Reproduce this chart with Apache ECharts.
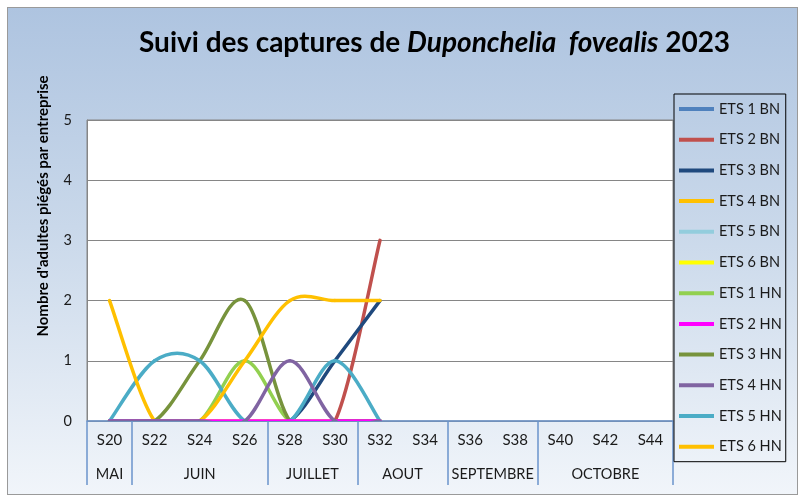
<!DOCTYPE html>
<html>
<head>
<meta charset="utf-8">
<script src="https://cdn.jsdelivr.net/npm/echarts@6/dist/echarts.min.js"></script>
<style>
html,body{margin:0;padding:0;background:#fff;}
#bg{position:absolute;left:7px;top:7px;width:789px;height:486px;border:1px solid #9a9a9a;
background:linear-gradient(to bottom,#aec4e0 0%,#c9d8ea 45%,#f1f5fa 100%);}
#chart{position:absolute;left:0;top:0;width:803px;height:502px;}
</style>
</head>
<body>
<div id="bg"></div>
<div id="chart"></div>
<script>
// Categories (bi-weekly labels) and month groups
const weeks = ['S20','S22','S24','S26','S28','S30','S32','S34','S36','S38','S40','S42','S44'];
const months = ['MAI','JUIN','JUILLET','AOUT','SEPTEMBRE','OCTOBRE'];
const monthSpans = [1,3,2,2,2,3];

// Series values (S20..S32 read; later weeks empty)
const ets1BN = [0,0,0,0,0,0,0];
const ets2BN = [0,0,0,0,0,0,3];
const ets3BN = [0,0,0,0,0,1,2];
const ets4BN = [0,0,0,0,0,0,0];
const ets5BN = [0,0,0,0,0,0,0];
const ets6BN = [0,0,0,0,0,0,0];
const ets1HN = [0,0,0,1,0,0,0];
const ets2HN = [0,0,0,0,0,0,0];
const ets3HN = [0,0,1,2,0,0,0];
const ets4HN = [0,0,0,0,1,0,0];
const ets5HN = [0,1,1,0,0,1,0];
const ets6HN = [2,0,0,1,2,2,2];

const seriesNames = ['ETS 1 BN','ETS 2 BN','ETS 3 BN','ETS 4 BN','ETS 5 BN','ETS 6 BN',
  'ETS 1 HN','ETS 2 HN','ETS 3 HN','ETS 4 HN','ETS 5 HN','ETS 6 HN'];
const seriesData = [ets1BN,ets2BN,ets3BN,ets4BN,ets5BN,ets6BN,ets1HN,ets2HN,ets3HN,ets4HN,ets5HN,ets6HN];
const seriesColors = ['#4F81BD','#C0504D','#1F497D','#FFC000','#93CDDD','#FFFF00',
  '#92D050','#FF00FF','#77933C','#8064A2','#4BACC6','#FFC000'];
const seriesZ = [2,2,2,2,2,2,2,3,2,4,2,2];

// month boundaries and centers on a 0..13 value scale
const bounds = [0]; const centers = []; const monthAt = {};
monthSpans.forEach((s,i)=>{ const a = bounds[bounds.length-1]; bounds.push(a+s); const c = a + s/2; centers.push(c); monthAt[c] = months[i]; });

// Smoothed line (Catmull-Rom, like a spreadsheet "smoothed line") drawn through the axes' coord()
function makeRender(arr, color, order){
  return function(params, api){
    const i = params.dataIndex, n = arr.length;
    if (i >= n-1) return null;
    const p = (k)=>api.coord([k, arr[k]]);
    const P0 = p(Math.max(i-1,0)), P1 = p(i), P2 = p(i+1), P3 = p(Math.min(i+2,n-1));
    return {
      type:'bezierCurve',
      z2:order,
      shape:{x1:P1[0],y1:P1[1],x2:P2[0],y2:P2[1],
        cpx1:P1[0]+(P2[0]-P0[0])/6, cpy1:P1[1]+(P2[1]-P0[1])/6,
        cpx2:P2[0]-(P3[0]-P1[0])/6, cpy2:P2[1]-(P3[1]-P1[1])/6},
      style:{stroke:color, lineWidth:3.5, fill:null, lineCap:'round'}
    };
  };
}

const FONT = 'Lato';
const chart = echarts.init(document.getElementById('chart'), null, {renderer:'canvas'});
chart.setOption({
  animation:false,
  backgroundColor:'transparent',
  textStyle:{fontFamily:FONT},
  title:{
    left:134, top:24,
    text:'{n|Suivi des captures de }{i|Duponchelia  fovealis}{n| 2023}',
    textStyle:{rich:{
      n:{fontFamily:FONT,fontWeight:'bold',fontSize:28,color:'#000'},
      i:{fontFamily:FONT,fontWeight:'bold',fontStyle:'italic',fontSize:28,color:'#000'}
    }}
  },
  graphic:[{
    type:'text', x:43, y:206, rotation:Math.PI/2,
    style:{text:"Nombre d'adultes piégés par entreprise", fontFamily:FONT, fontWeight:'bold', fontSize:15,
      fill:'#000', align:'center', verticalAlign:'middle'}
  }],
  legend:{
    orient:'vertical', left:674, top:94,
    itemWidth:35, itemHeight:4, itemGap:14.7, icon:'rect',
    padding:[7,4,7,5],
    borderColor:'#000', borderWidth:1,
    textStyle:{fontFamily:FONT,fontSize:14.5,lineHeight:16,color:'#1a1a1a'},
    data:seriesNames
  },
  grid:{left:87, top:120, width:586, height:301, show:true, backgroundColor:'#fff', borderColor:'#868686', borderWidth:1},
  xAxis:[{
    type:'category', data:weeks, boundaryGap:true,
    axisLine:{lineStyle:{color:'#6B94CC',width:1.5}},
    axisTick:{show:false},
    axisLabel:{interval:0, margin:12, fontSize:15, color:'#1a1a1a', fontFamily:FONT}
  },{
    type:'value', position:'bottom', offset:0, min:0, max:13,
    axisLine:{show:false}, splitLine:{show:false},
    axisTick:{show:true, customValues:bounds, length:64, lineStyle:{color:'#6B94CC',width:1.5}},
    axisLabel:{customValues:centers, formatter:(v)=>monthAt[v]||'', margin:46, fontSize:14.5, color:'#1a1a1a', fontFamily:FONT}
  }],
  yAxis:{
    type:'value', min:0, max:5, interval:1,
    axisLine:{show:true,lineStyle:{color:'#868686'}},
    axisTick:{show:false},
    splitLine:{lineStyle:{color:'#868686',width:1}},
    axisLabel:{margin:15, fontSize:14.5, color:'#1a1a1a', fontFamily:FONT}
  },
  series:seriesNames.map((n,i)=>({
    name:n, type:'custom', xAxisIndex:0, yAxisIndex:0,
    data:seriesData[i].map((v,k)=>[k,v]),
    encode:{x:0,y:1},
    renderItem:makeRender(seriesData[i], seriesColors[i], seriesZ[i]*20 + i),
    clip:true,
    z:seriesZ[i],
    itemStyle:{color:seriesColors[i]},
    emphasis:{disabled:true}
  }))
});
</script>
</body>
</html>
